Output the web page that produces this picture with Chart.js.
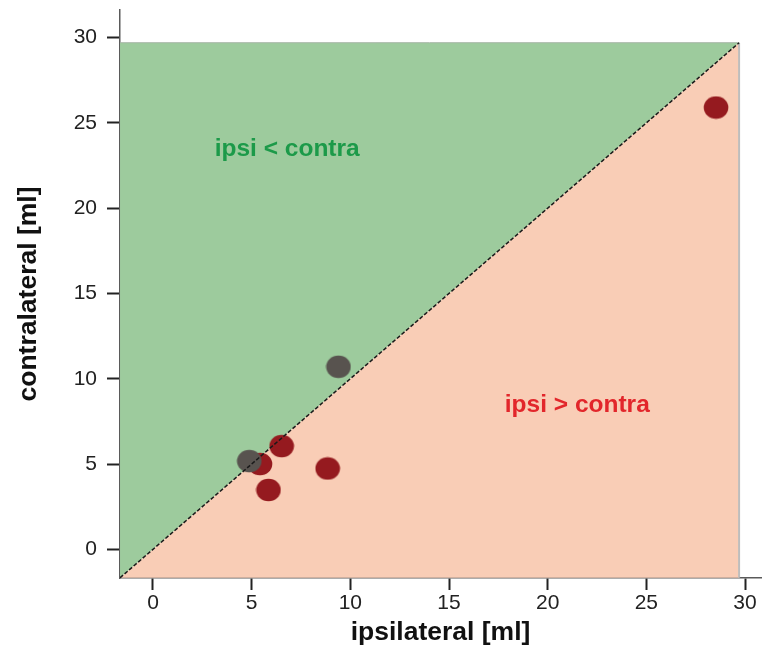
<!DOCTYPE html>
<html>
<head>
<meta charset="utf-8">
<script src="https://cdn.jsdelivr.net/npm/chart.js@4"></script>
<style>
  html, body { margin: 0; padding: 0; background: #fff; }
  #wrap { width: 766px; height: 650px; }
</style>
</head>
<body>
<div id="wrap"><canvas id="c"></canvas></div>
<script>
// ipsilateral vs contralateral volume (ml)
const redX = [28.53, 5.42, 6.52, 8.85, 5.85];
const redY = [25.9, 5.0, 6.05, 4.74, 3.48];
const grayX = [9.4, 4.88];
const grayY = [10.7, 5.17];
const tickValues = [0, 5, 10, 15, 20, 25, 30];
const regionLo = -1.67, regionHi = 29.7;
const labels = [
  { text: 'ipsi < contra', x: 6.8, y: 23.45, color: '#1c9a49' },
  { text: 'ipsi > contra', x: 21.5, y: 8.46, color: '#e2262b' }
];

const FONT = '"Liberation Sans", Arial, sans-serif';

// slightly oval marker like the original
function blob(color) {
  const c = document.createElement('canvas');
  c.width = 26; c.height = 24;
  const g = c.getContext('2d');
  g.fillStyle = color;
  g.beginPath(); g.ellipse(13, 12, 12.3, 11.3, 0, 0, Math.PI * 2); g.fill();
  return c;
}

const textPlugin = {
  id: 'regionText',
  afterDatasetsDraw(chart) {
    const { ctx, scales: { x, y } } = chart;
    ctx.save();
    ctx.font = 'bold 24.5px ' + FONT;
    ctx.textAlign = 'center'; ctx.textBaseline = 'middle';
    labels.forEach(l => {
      ctx.fillStyle = l.color;
      ctx.fillText(l.text, x.getPixelForValue(l.x), y.getPixelForValue(l.y));
    });
    ctx.restore();
  }
};

function axis(min, max, titleText, isY) {
  return {
    type: 'linear', min, max,
    afterBuildTicks: s => { s.ticks = tickValues.map(v => ({ value: v })); },
    afterFit: s => {
      if (isY) s.width = 120; else s.height = 72;
      s.paddingTop = 0; s.paddingBottom = 0; s.paddingLeft = 0; s.paddingRight = 0;
    },
    grid: { drawOnChartArea: false, drawTicks: true, tickLength: isY ? 13 : 12,
            tickColor: '#222', tickWidth: 2 },
    border: { display: true, color: '#5a5a5a', width: 1.5 },
    ticks: { color: '#222', font: { family: FONT, size: 21 }, padding: isY ? 10 : 1, maxRotation: 0 },
    title: { display: true, text: titleText, color: '#111',
             font: { family: FONT, size: 26.5, weight: 'bold' },
             padding: isY ? { top: 13 } : { bottom: 1 } }
  };
}

new Chart(document.getElementById('c'), {
  type: 'scatter',
  data: {
    datasets: [
      { // green: top edge filled down to the diagonal
        type: 'line', data: [{ x: regionLo, y: regionHi }, { x: regionHi, y: regionHi }],
        borderColor: '#a6b5a6', borderWidth: 1, pointRadius: 0,
        fill: 1, backgroundColor: '#9dcb9d', order: 10 },
      { // orange: below diagonal
        type: 'line', data: [{ x: regionLo, y: regionLo }, { x: regionHi, y: regionHi }],
        borderWidth: 0, borderColor: 'transparent', pointRadius: 0,
        fill: { value: regionLo }, backgroundColor: '#f9cdb6', order: 9 },
      { // right edge of the shaded box
        type: 'line', data: [{ x: regionHi, y: regionLo }, { x: regionHi, y: regionHi }],
        borderColor: '#bdbdbd', borderWidth: 2, pointRadius: 0, fill: false, order: 8 },
      { data: redX.map((v, i) => ({ x: v, y: redY[i] })),
        pointStyle: blob('#951a1f'), order: 5 },
      { data: grayX.map((v, i) => ({ x: v, y: grayY[i] })),
        pointStyle: blob('#58534f'), order: 4 },
      { // line of identity
        type: 'line', data: [{ x: regionLo, y: regionLo }, { x: regionHi, y: regionHi }],
        borderColor: '#1a1a1a', borderWidth: 1.5, borderDash: [4, 2], pointRadius: 0,
        fill: false, order: 1 }
    ]
  },
  options: {
    responsive: true, maintainAspectRatio: false, animation: false,
    layout: { padding: { top: 10, right: 0, left: 0, bottom: 0 } },
    plugins: { legend: { display: false }, tooltip: { enabled: false } },
    scales: {
      x: axis(-1.672, 30.81, 'ipsilateral [ml]', false),
      y: axis(-1.683, 31.62, 'contralateral [ml]', true)
    }
  },
  plugins: [textPlugin]
});
</script>
</body>
</html>
